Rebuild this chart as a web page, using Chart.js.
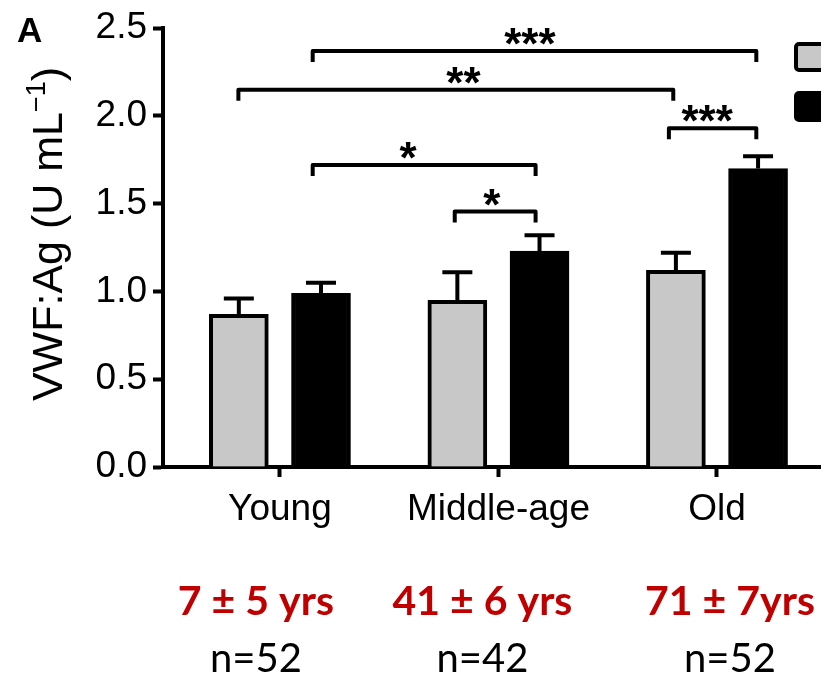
<!DOCTYPE html>
<html>
<head>
<meta charset="utf-8">
<script src="https://cdn.jsdelivr.net/npm/chart.js@4"></script>
<style>
  html, body { margin: 0; padding: 0; background: #fff; overflow: hidden; }
  #wrap { position: relative; width: 821px; height: 675px; }
</style>
</head>
<body>
<div id="wrap"><canvas id="vwfChart" width="821" height="675"></canvas></div>
<script>
// categories and values
const groups = ["Young", "Middle-age", "Old"];
const ages = ["7 ± 5 yrs", "41 ± 6 yrs", "71 ± 7yrs"];
const counts = ["n=52", "n=42", "n=52"];
const greyValues = [0.87, 0.95, 1.12];
const greyErrors = [0.09, 0.16, 0.10];
const blackValues = [0.99, 1.23, 1.70];
const blackErrors = [0.06, 0.09, 0.07];
const yTicks = [0, 0.5, 1.0, 1.5, 2.0, 2.5];

// significance brackets: from, to (category units), height, stars, star x
const bracketFrom = [0.15, -0.19, 0.15, 0.80, 1.78];
const bracketTo = [2.18, 1.80, 1.17, 1.17, 2.18];
const bracketY = [2.37, 2.15, 1.72, 1.455, 1.93];
const bracketStars = ["***", "**", "*", "*", "***"];
const starX = [1.144, 0.84, 0.586, 0.97, 1.955];

const FONT = "'Liberation Sans', Arial, Helvetica, sans-serif";
const GROUP_SHIFT = 0.188;

// bars sit on a linear x scale so the grey / black pair can have a gap
const greyData = greyValues.map((v, i) => ({ x: i - GROUP_SHIFT, y: v }));
const blackData = blackValues.map((v, i) => ({ x: i + GROUP_SHIFT, y: v }));

const extras = {
  id: "extras",
  afterDatasetsDraw(chart) {
    const ctx = chart.ctx;
    const xs = chart.scales.x;
    const ys = chart.scales.y;
    ctx.save();
    ctx.strokeStyle = "#000";
    ctx.lineWidth = 4;
    ctx.lineCap = "butt";

    // error bars (upper only)
    const errs = [greyErrors, blackErrors];
    chart.data.datasets.forEach((ds, di) => {
      const meta = chart.getDatasetMeta(di);
      meta.data.forEach((bar, i) => {
        const top = ys.getPixelForValue(ds.data[i].y + errs[di][i]);
        ctx.beginPath();
        ctx.moveTo(bar.x, bar.y);
        ctx.lineTo(bar.x, top);
        ctx.moveTo(bar.x - 15, top);
        ctx.lineTo(bar.x + 15, top);
        ctx.stroke();
      });
    });

    // brackets with stars
    ctx.lineJoin = "round";
    ctx.fillStyle = "#000";
    ctx.font = "bold 44px " + FONT;
    ctx.textAlign = "center";
    ctx.textBaseline = "alphabetic";
    bracketY.forEach((b, i) => {
      const y = ys.getPixelForValue(b);
      const x1 = xs.getPixelForValue(bracketFrom[i]);
      const x2 = xs.getPixelForValue(bracketTo[i]);
      ctx.beginPath();
      ctx.moveTo(x1, y + 11);
      ctx.lineTo(x1, y);
      ctx.lineTo(x2, y);
      ctx.lineTo(x2, y + 11);
      ctx.stroke();
      ctx.fillText(bracketStars[i], xs.getPixelForValue(starX[i]), y + 8);
    });
    ctx.restore();
  },
  afterDraw(chart) {
    const ctx = chart.ctx;
    const xs = chart.scales.x;
    ctx.save();

    // panel letter
    ctx.fillStyle = "#000";
    ctx.font = "bold 35px " + FONT;
    ctx.textAlign = "left";
    ctx.textBaseline = "alphabetic";
    ctx.fillText("A", 17, 42);

    // y axis title with superscript
    ctx.translate(62, 234);
    ctx.rotate(-Math.PI / 2);
    const main = "VWF:Ag (U mL";
    const sup = "\u22121";
    const close = ")";
    ctx.font = "43px " + FONT;
    const wMain = ctx.measureText(main).width;
    const wClose = ctx.measureText(close).width;
    ctx.font = "27px " + FONT;
    const wSup = ctx.measureText(sup).width;
    let x = -(wMain + wSup + wClose) / 2;
    ctx.font = "43px " + FONT;
    ctx.fillText(main, x, 0);
    x += wMain;
    ctx.font = "27px " + FONT;
    ctx.fillText(sup, x, -17);
    x += wSup;
    ctx.font = "43px " + FONT;
    ctx.fillText(close, x, 0);
    ctx.setTransform(1, 0, 0, 1, 0, 0);

    // age and count rows under the categories
    const shift = [-24, -16, 13];
    ctx.textAlign = "center";
    groups.forEach((g, i) => {
      const cx = xs.getPixelForValue(i) + shift[i];
      ctx.fillStyle = "#c00000";
      ctx.font = "bold 41px Lato, 'Open Sans', sans-serif";
      ctx.fillText(ages[i], cx, 615);
      ctx.fillStyle = "#000";
      ctx.font = "40px Lato, 'Open Sans', sans-serif";
      ctx.fillText(counts[i], cx, 672);
    });

    // legend swatches (cut at the right edge)
    ctx.lineWidth = 4;
    ctx.strokeStyle = "#000";
    ctx.fillStyle = "#c8c8c8";
    ctx.beginPath();
    ctx.roundRect(796, 44, 40, 26, 3);
    ctx.fill();
    ctx.stroke();
    ctx.fillStyle = "#000";
    ctx.beginPath();
    ctx.roundRect(796, 93, 40, 27, 3);
    ctx.fill();
    ctx.stroke();
    ctx.restore();
  }
};

new Chart(document.getElementById("vwfChart"), {
  type: "bar",
  data: {
    datasets: [
      {
        label: "Grey",
        data: greyData,
        backgroundColor: "#c8c8c8",
        borderColor: "#000",
        borderWidth: 4,
        grouped: false,
        barThickness: 59
      },
      {
        label: "Black",
        data: blackData,
        backgroundColor: "#000",
        borderColor: "#000",
        borderWidth: 4,
        grouped: false,
        barThickness: 59
      }
    ]
  },
  options: {
    responsive: false,
    animation: false,
    layout: { padding: { top: 27, right: 0, left: 0, bottom: 0 } },
    plugins: {
      legend: { display: false },
      tooltip: { enabled: false }
    },
    scales: {
      x: {
        type: "linear",
        offset: false,
        min: -0.535,
        max: 2.476,
        afterBuildTicks: (scale) => {
          scale.ticks = groups.map((g, i) => ({ value: i }));
        },
        afterFit: (scale) => { scale.height = 208; },
        ticks: {
          callback: (v) => groups[v],
          color: "#000",
          font: { family: FONT, size: 37 },
          padding: 11,
          maxRotation: 0
        },
        grid: {
          offset: false,
          drawOnChartArea: false,
          drawTicks: true,
          tickLength: 10,
          tickWidth: 4,
          tickColor: "#000"
        },
        border: { color: "#000", width: 4 }
      },
      y: {
        min: 0,
        max: 2.5,
        afterBuildTicks: (scale) => {
          scale.ticks = yTicks.map((v) => ({ value: v }));
        },
        afterFit: (scale) => { scale.width = 163; },
        ticks: {
          callback: (v) => v.toFixed(1),
          color: "#000",
          font: { family: FONT, size: 37 },
          padding: 6
        },
        grid: {
          drawOnChartArea: false,
          drawTicks: true,
          tickLength: 10,
          tickWidth: 4,
          tickColor: "#000"
        },
        border: { color: "#000", width: 4 }
      }
    }
  },
  plugins: [extras]
});
</script>
</body>
</html>
